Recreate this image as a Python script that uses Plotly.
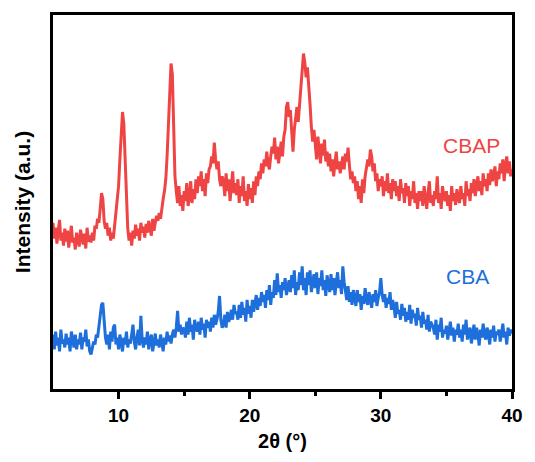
import plotly.graph_objects as go

two_theta_start = 5.0
two_theta_step = 0.1

cbap = [
    168,152,163,147,160,171,150,158,145,162,
    149,160,143,156,165,148,153,141,158,150,
    144,161,151,146,157,142,163,149,155,148,
    158,150,165,162,172,168,182,198,192,170,
    162,168,155,163,150,158,152,165,172,188,
    205,232,262,280,268,225,185,162,150,158,
    145,160,152,166,155,162,150,168,158,164,
    153,167,158,170,162,155,172,160,168,175,
    170,178,172,185,192,200,212,235,270,305,
    329,318,270,215,200,188,205,185,196,180,
    200,190,208,185,195,210,188,202,192,212,
    198,215,205,220,200,212,195,218,208,222,
    225,235,228,249,232,222,230,212,205,215,
    210,195,218,200,212,190,205,220,198,208,
    196,212,188,205,195,215,190,200,185,207,
    192,203,188,210,196,215,205,220,212,228,
    218,232,225,240,228,222,235,245,238,254,
    232,245,228,240,250,235,255,262,285,290,
    275,282,258,240,262,272,285,270,290,305,
    322,339,330,315,325,300,288,265,250,262,
    245,232,255,238,228,248,236,252,230,240,
    225,238,220,232,215,228,240,222,230,218,
    228,235,222,238,230,244,226,212,220,208,
    215,200,210,192,205,188,212,198,215,225,
    232,225,242,235,220,228,210,218,200,212,
    205,215,195,210,200,218,198,208,192,212,
    200,210,195,205,190,212,198,203,188,208,
    195,205,185,200,192,210,188,198,182,200,
    190,200,185,205,192,182,198,210,188,196,
    185,200,192,215,188,198,182,205,195,190,
    200,185,196,180,205,190,198,186,202,192,
    188,205,192,198,185,210,195,202,190,208,
    198,212,195,205,215,200,210,196,218,205,
    212,200,218,206,222,210,215,225,205,220,
    212,228,218,232,210,226,235,218,230,215,
    222,
]

cba = [
    55,40,58,44,52,38,60,46,50,42,
    56,45,52,38,58,47,42,55,40,50,
    45,57,40,52,48,60,43,50,38,35,
    42,48,45,55,52,62,72,85,87,70,
    52,45,55,40,58,48,62,65,45,52,
    40,55,48,38,52,45,58,42,50,46,
    55,65,48,40,52,60,44,74,50,42,
    52,45,58,40,50,55,38,48,56,44,
    50,42,55,47,38,52,45,58,48,54,
    46,55,60,52,62,79,58,65,55,62,
    60,52,68,55,72,58,65,50,70,62,
    58,68,55,72,60,66,52,70,62,68,
    58,72,62,75,65,70,78,94,70,62,
    65,75,62,78,68,72,80,70,85,76,
    78,70,85,72,88,75,82,68,90,76,
    84,72,90,78,86,95,80,92,84,98,
    88,95,82,100,90,105,85,98,92,110,
    95,117,98,105,92,108,100,112,95,105,
    110,98,115,102,120,95,108,100,118,105,
    124,100,112,95,118,105,120,98,110,116,
    102,118,96,112,104,120,100,110,94,115,
    105,98,116,100,112,95,108,118,102,110,
    96,124,108,100,90,104,88,98,85,100,
    92,84,100,88,96,80,94,86,102,90,
    85,98,90,82,96,88,100,84,92,98,
    112,95,88,96,82,92,86,98,80,90,
    84,72,88,76,80,70,86,74,82,68,
    78,70,85,66,80,72,76,64,82,70,
    74,62,78,66,70,60,75,58,68,64,
    62,55,70,50,65,58,72,52,60,56,
    64,50,58,68,54,62,48,60,55,66,
    52,60,48,65,55,70,50,58,62,46,
    58,65,50,62,55,44,60,52,66,54,
    50,62,56,45,60,52,64,48,58,55,
    60,48,56,66,52,58,45,62,54,60,
    56,
]

series_names = ["CBAP", "CBA"]
series_colors = ["#EF4444", "#1E6FDB"]
label_pos = [(36.9, 246), (36.6, 114)]
x_ticks = [10, 20, 30, 40]

two_theta = [round(two_theta_start + i * two_theta_step, 2) for i in range(len(cbap))]

fig = go.Figure()
for name, ys, col in zip(series_names, [cbap, cba], series_colors):
    fig.add_trace(go.Scatter(x=two_theta, y=ys, mode="lines", name=name,
                             line=dict(color=col, width=3), showlegend=False))

for name, col, (lx, ly) in zip(series_names, series_colors, label_pos):
    fig.add_annotation(x=lx, y=ly, text=name, showarrow=False,
                       font=dict(family="Arial, Liberation Sans", size=21, color=col))

fig.update_layout(
    width=535, height=462,
    margin=dict(l=53, r=15, t=14, b=69),
    plot_bgcolor="white", paper_bgcolor="white",
    font=dict(family="Arial, Liberation Sans", color="black"),
)
fig.update_xaxes(
    range=[5, 40], tickvals=x_ticks, ticks="outside", ticklen=7, tickwidth=3,
    tickcolor="black", showline=True, linewidth=3, linecolor="black", mirror=True,
    showgrid=False, zeroline=False,
    tickfont=dict(size=19, weight="bold", color="black"),
    minor=dict(tickvals=[15, 25, 35], ticks="outside", ticklen=4, tickwidth=3, tickcolor="black"),
    title=dict(text="2θ (°)", font=dict(size=20, weight="bold"), standoff=10),
)
fig.update_yaxes(
    range=[0, 378], showticklabels=False, ticks="", showline=True, linewidth=3,
    linecolor="black", mirror=True, showgrid=False, zeroline=False,
    title=dict(text="Intensity (a.u.)", font=dict(size=21, weight="bold"), standoff=14),
)

fig.write_html("out.html")
